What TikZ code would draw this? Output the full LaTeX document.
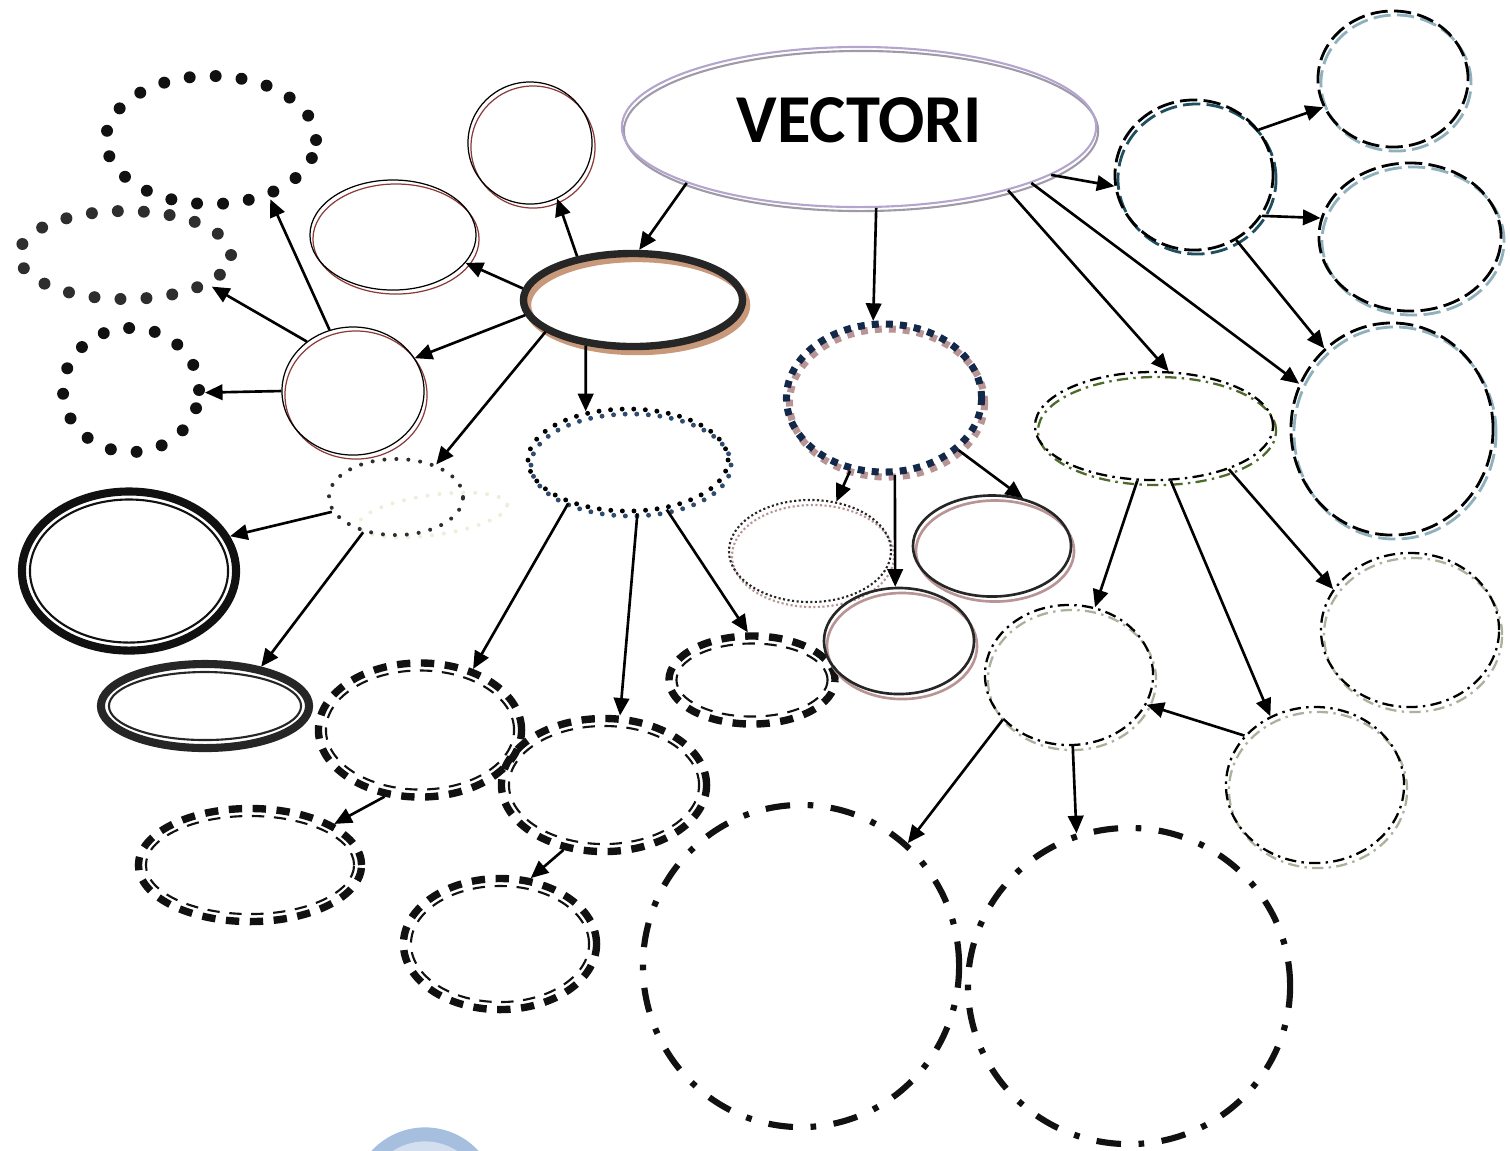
\documentclass[tikz,border=0pt]{standalone}
\usepackage{xcolor}
\usepackage{fontspec}
\newfontfamily\vecfont{Carlito}
\usepackage{tikz}
\usetikzlibrary{shapes.geometric, arrows.meta}
\definecolor{mylav}{RGB}{180,165,206}
\definecolor{mylavshd}{RGB}{160,154,168}
\definecolor{mydark}{RGB}{38,38,38}
\definecolor{mytan}{RGB}{200,152,122}
\definecolor{myrust}{RGB}{139,58,58}
\definecolor{mydot}{RGB}{17,17,17}
\definecolor{mydotgrey}{RGB}{46,46,46}
\definecolor{mypale}{RGB}{234,240,220}
\definecolor{mynavy}{RGB}{20,41,74}
\definecolor{myrose}{RGB}{184,148,148}
\definecolor{myblue}{RGB}{47,75,110}
\definecolor{myolive}{RGB}{78,106,42}
\definecolor{mysage}{RGB}{169,179,155}
\definecolor{myteal}{RGB}{31,79,96}
\definecolor{mygreyblue}{RGB}{143,177,189}
\definecolor{myring}{RGB}{167,191,223}
\definecolor{myringin}{RGB}{211,222,239}
\tikzset{
  oval/.style={ellipse, inner sep=0pt},
  shd/.style 2 args={preaction={draw=#1, transform canvas={shift={#2}}}},
  topoval/.style={oval, draw=mylav, line width=0.6pt, shd={mylavshd}{(2,4)}},
  hubring/.style={oval, draw=mydark, line width=2.1pt, shd={mytan}{(4,5)}},
  thinring/.style={oval, draw=black, line width=0.35pt, shd={myrust}{(3,4)}},
  bigdots/.style={oval, draw=#1, line width=3.4pt, line cap=round, dash pattern=on 0pt off 7.4pt},
  smalldots/.style={oval, draw=#1, line width=1.15pt, line cap=round, dash pattern=on 0pt off 3.4pt},
  bluedots/.style={oval, draw=black, line width=1.4pt, line cap=round, dash pattern=on 0pt off 3.3pt, shd={myblue}{(3,5)}},
  thickring/.style={oval, draw=#1, line width=2.3pt},
  innerring/.style={oval, draw=#1, line width=0.6pt},
  bardash/.style={oval, draw=mydot, line width=2.1pt, dash pattern=on 3.8pt off 3pt},
  bardashin/.style={oval, draw=mydot, line width=0.6pt, dash pattern=on 3.5pt off 2.75pt},
  squaredots/.style={oval, draw=mynavy, line width=2pt, dash pattern=on 2pt off 2pt, shd={myrose}{(3,5)}},
  finedots/.style={oval, draw=mydark, line width=0.6pt, dash pattern=on 0.6pt off 0.7pt, shd={myrose}{(3,5)}},
  plainring/.style={oval, draw=mydark, line width=0.75pt, shd={myrose}{(3,5)}},
  dashdot/.style={oval, draw=black, line width=0.65pt, dash pattern=on 3.2pt off 1.5pt on 0.7pt off 1.5pt, shd={#1}{(3,5)}},
  longdash/.style={oval, draw=black, line width=0.8pt, dash pattern=on 4.9pt off 1.8pt, shd={#1}{(3,4)}},
  bigdashdot/.style={oval, draw=mydot, line width=1.75pt, dash pattern=on 7pt off 5pt on 1.6pt off 5pt},
  arrow/.style={-{Triangle[length=5pt, width=4.4pt]}, line width=0.75pt, color=black}
}
\begin{document}
\begin{tikzpicture}[x=0.01cm, y=-0.01cm]
  \useasboundingbox (0,0) rectangle (1510,1150);
  \begin{scope}
    \clip (0,0) rectangle (1510,1150);
    \fill[myring] (425,1200) circle [radius=0.726cm];
    \fill[myringin] (425,1200) circle [radius=0.586cm];
  \end{scope}

  \node[topoval, minimum width=4.74cm, minimum height=1.60cm, text depth=0.14cm,
    font=\vecfont\bfseries\fontsize{19.5}{20}\selectfont] (vec) at (859,127) {VECTORI};
  \node[hubring, minimum width=2.19cm, minimum height=0.93cm] (hub) at (633,300) {};
  \node[thinring, minimum width=1.24cm, minimum height=1.22cm] (c1) at (530,143) {};
  \node[thinring, minimum width=1.66cm, minimum height=1.10cm] (e2) at (393,235) {};
  \node[thinring, minimum width=1.42cm, minimum height=1.28cm] (c3) at (353,391) {};

  \node[bigdots=mydot, minimum width=2.10cm, minimum height=1.28cm] (d1) at (211,140) {};
  \node[bigdots=mydotgrey, minimum width=2.12cm, minimum height=0.88cm] (d2) at (125,255) {};
  \node[bigdots=mydot, minimum width=1.36cm, minimum height=1.24cm] (d3) at (131,390) {};
  \node[smalldots=mypale, minimum width=1.50cm, minimum height=0.40cm, rotate=8] (d4pale) at (433,515) {};
  \node[smalldots=mydotgrey, minimum width=1.34cm, minimum height=0.76cm] (d4) at (396,497) {};

  \node[thickring=mydot, minimum width=2.14cm, minimum height=1.59cm] (b1) at (129,571) {};
  \node[innerring=mydot, minimum width=1.98cm, minimum height=1.43cm] (b1in) at (129,571) {};
  \node[thickring=mydark, minimum width=2.08cm, minimum height=0.84cm] (b2) at (205,706) {};
  \node[innerring=mydark, minimum width=1.92cm, minimum height=0.68cm] (b2in) at (205,706) {};

  \node[bluedots, minimum width=2.00cm, minimum height=1.02cm] (d5) at (628,460) {};
  \node[bardash, minimum width=2.03cm, minimum height=1.34cm] (q1) at (420,730) {};
  \node[bardashin, minimum width=1.88cm, minimum height=1.19cm] (q1in) at (420,730) {};
  \node[bardash, minimum width=2.05cm, minimum height=1.33cm] (q2) at (604,785) {};
  \node[bardashin, minimum width=1.90cm, minimum height=1.18cm] (q2in) at (604,785) {};
  \node[bardash, minimum width=2.23cm, minimum height=1.13cm] (q3) at (250,865) {};
  \node[bardashin, minimum width=2.08cm, minimum height=0.98cm] (q3in) at (250,865) {};
  \node[bardash, minimum width=1.93cm, minimum height=1.31cm] (q4) at (500,944) {};
  \node[bardashin, minimum width=1.78cm, minimum height=1.16cm] (q4in) at (500,944) {};
  \node[bardash, minimum width=1.66cm, minimum height=0.88cm] (q5) at (752,680) {};
  \node[bardashin, minimum width=1.51cm, minimum height=0.73cm] (q5in) at (752,680) {};

  \node[squaredots, minimum width=1.95cm, minimum height=1.48cm] (s1) at (884,398) {};
  \node[finedots, minimum width=1.62cm, minimum height=1.02cm] (s2) at (810,551) {};
  \node[plainring, minimum width=1.58cm, minimum height=1.01cm] (s3) at (992,546) {};
  \node[plainring, minimum width=1.50cm, minimum height=1.06cm] (s4) at (899,641) {};

  \node[dashdot=myolive, minimum width=2.38cm, minimum height=1.08cm] (g1) at (1154,426) {};
  \node[dashdot=mysage, minimum width=1.68cm, minimum height=1.40cm] (g2) at (1069,675) {};
  \node[dashdot=mysage, minimum width=1.78cm, minimum height=1.54cm] (g3) at (1410,630) {};
  \node[dashdot=mysage, minimum width=1.78cm, minimum height=1.56cm] (g4) at (1315,785) {};

  \node[longdash=myteal, minimum width=1.58cm, minimum height=1.50cm] (t1) at (1194,175) {};
  \node[longdash=mygreyblue, minimum width=1.50cm, minimum height=1.36cm] (t2) at (1393,79) {};
  \node[longdash=mygreyblue, minimum width=1.82cm, minimum height=1.48cm] (t3) at (1410,237) {};
  \node[longdash=mygreyblue, minimum width=2.02cm, minimum height=2.12cm] (t4) at (1392,429) {};

  \node[bigdashdot, minimum width=3.16cm, minimum height=3.22cm] (L1) at (801,966) {};
  \node[bigdashdot, minimum width=3.22cm, minimum height=3.16cm] (L2) at (1129,986) {};

  \draw[arrow] (vec.198) -- (hub.83);
  \draw[arrow] (vec.282) -- (s1.98);
  \draw[arrow] (vec.346) -- (t1.188);
  \draw[arrow] (vec.342) -- (t4.154);
  \draw[arrow] (vec.337) -- (g1.75);
  \draw[arrow] (t1.35) -- (t2.202);
  \draw[arrow] (t1.329) -- (t3.168);
  \draw[arrow] (t1.303) -- (t4.130);
  \draw[arrow] (hub.142) -- (c1.296);
  \draw[arrow] (hub.174) -- (e2.339);
  \draw[arrow] (hub.188) -- (c3.28);
  \draw[arrow] (hub.200) -- (d4.39);
  \draw[arrow] (hub.224) -- (d5.131);
  \draw[arrow] (c3.111) -- (d1.315);
  \draw[arrow] (c3.133) -- (d2.340);
  \draw[arrow] (c3.180) -- (d3.358);
  \draw[arrow] (d4.193) -- (b1.19);
  \draw[arrow] (d4.227) -- (b2.35);
  \draw[arrow] (d5.216) -- (q1.49);
  \draw[arrow] (d5.280) -- (q2.77);
  \draw[arrow] (d5.308) -- (q5.95);
  \draw[arrow] (q1.242) -- (q3.26);
  \draw[arrow] (q2.238) -- (q4.65);
  \draw[arrow] (s1.245) -- (s2.62);
  \draw[arrow] (s1.278) -- (s4.94);
  \draw[arrow] (s1.325) -- (s3.57);
  \draw[arrow] (g1.253) -- (g2.69);
  \draw[arrow] (g1.287) -- (g4.123);
  \draw[arrow] (g1.330) -- (g3.152);
  \draw[arrow] (g4.145) -- (g2.339);
  \draw[arrow] (g2.214) -- (L1.49);
  \draw[arrow] (g2.273) -- (L2.109);
\end{tikzpicture}
\end{document}
